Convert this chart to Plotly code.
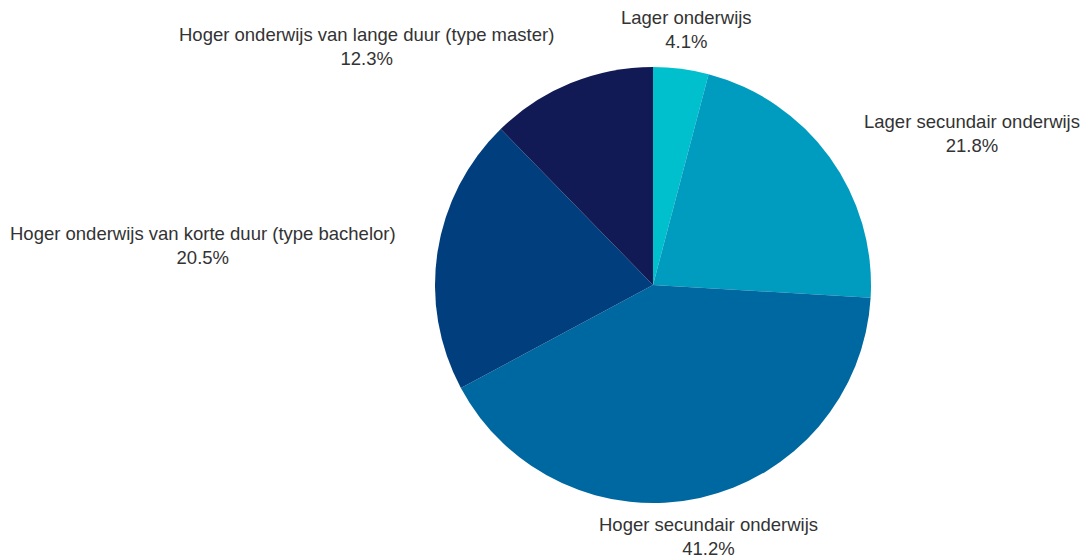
import math
import plotly.graph_objects as go

labels = [
    "Lager onderwijs",
    "Lager secundair onderwijs",
    "Hoger secundair onderwijs",
    "Hoger onderwijs van korte duur (type bachelor)",
    "Hoger onderwijs van lange duur (type master)",
]
values = [4.1, 21.8, 41.2, 20.5, 12.3]
colors = ["#00c0cd", "#009cc0", "#0068a1", "#003e7e", "#111a55"]

W, H = 1084, 557
cx, cy, r = 653, 285, 218
label_r = r + 40

fig = go.Figure(go.Pie(
    labels=labels,
    values=values,
    sort=False,
    direction="clockwise",
    rotation=0,
    marker=dict(colors=colors, line=dict(width=0)),
    textposition="none",
    hoverinfo="label+percent",
    domain=dict(x=[(cx - r) / W, (cx + r) / W], y=[1 - (cy + r) / H, 1 - (cy - r) / H]),
    showlegend=False,
))

total = sum(values)
cum = 0.0
annotations = []
for lab, v in zip(labels, values):
    mid = (cum + v / 2) / total * 2 * math.pi
    cum += v
    s, c = math.sin(mid), math.cos(mid)
    px = cx + label_r * s
    py = cy - label_r * c
    if abs(s) < 0.3:
        xa = "center"
    elif s > 0:
        xa = "left"
    else:
        xa = "right"
    annotations.append(dict(
        x=px / W, y=1 - py / H, xref="paper", yref="paper",
        xanchor=xa, yanchor="middle", align="center", showarrow=False,
        text=f"{lab}<br>{v / total * 100:.1f}%",
        font=dict(family="Liberation Sans, Arial, sans-serif", size=18.5, color="#333333"),
    ))

fig.update_layout(
    width=W, height=H,
    margin=dict(l=0, r=0, t=0, b=0),
    paper_bgcolor="white",
    plot_bgcolor="white",
    annotations=annotations,
)
fig.write_html("out.html")
